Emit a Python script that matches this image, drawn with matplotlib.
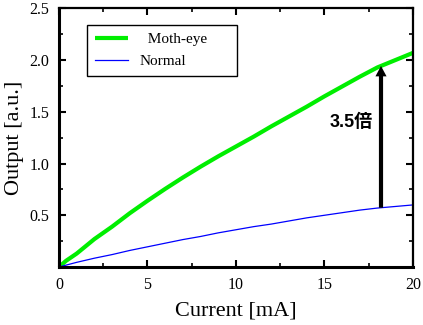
import numpy as np
import matplotlib
matplotlib.use("Agg")
import matplotlib.pyplot as plt
from matplotlib.ticker import MultipleLocator, FixedLocator

# Light output vs. drive current
current_ma = [0, 0.4, 1, 2, 3, 4, 5, 6, 7, 8, 9, 10, 11, 12, 13, 14, 15, 16, 17, 18, 19, 20]
moth_eye = [0, 0.06, 0.13, 0.27, 0.39, 0.52, 0.64, 0.755, 0.865, 0.97, 1.07, 1.165,
            1.26, 1.36, 1.455, 1.55, 1.65, 1.745, 1.84, 1.93, 2.0, 2.07]
normal = [0, 0.018, 0.045, 0.085, 0.12, 0.16, 0.195, 0.23, 0.265, 0.295, 0.33, 0.36,
          0.39, 0.415, 0.445, 0.475, 0.50, 0.525, 0.55, 0.57, 0.585, 0.60]

series_labels = ["  Moth-eye", "Normal"]
x_ticks = [0, 5, 10, 15, 20]
y_ticks = [0.5, 1.0, 1.5, 2.0, 2.5]
y_tick_labels = ["0.5", "1.0", "1.5", "2.0", "2.5"]
arrow_at_ma = 18.2
ratio_label = "3.5倍"

serif = ["Liberation Serif", "DejaVu Serif"]

fig = plt.figure(figsize=(4.23, 3.25), dpi=100)
ax = fig.add_axes([0.1395, 0.1785, 0.8365, 0.7955])

ax.plot(current_ma, moth_eye, color="#00ee00", lw=3.0, label=series_labels[0],
        solid_capstyle="butt")
ax.plot(current_ma, normal, color="#0000ff", lw=0.9, label=series_labels[1])

ax.set_xlim(0, 20)
ax.set_ylim(0, 2.5)

ax.xaxis.set_major_locator(FixedLocator(x_ticks))
ax.xaxis.set_minor_locator(MultipleLocator(2.5))
ax.yaxis.set_major_locator(FixedLocator(y_ticks))
ax.yaxis.set_minor_locator(MultipleLocator(0.25))
ax.set_yticklabels(y_tick_labels)

ax.tick_params(which="both", direction="in", top=True, right=True, color="black")
ax.tick_params(which="major", length=5, width=1.5, labelsize=11.5, pad=7)
ax.tick_params(which="minor", length=3, width=1.2)
for lbl in ax.get_xticklabels() + ax.get_yticklabels():
    lbl.set_family(serif)

for side in ("left", "bottom"):
    ax.spines[side].set_linewidth(2.2)
for side in ("top", "right"):
    ax.spines[side].set_linewidth(1.6)

ax.set_xlabel("Current [mA]", fontsize=16, family=serif, labelpad=6)
ax.set_ylabel("Output [a.u.]", fontsize=16, family=serif, labelpad=4)

# Arrow from the Normal curve up to the Moth-eye curve
y_low = float(np.interp(arrow_at_ma, current_ma, normal))
y_high = float(np.interp(arrow_at_ma, current_ma, moth_eye))
ax.annotate("", xy=(arrow_at_ma, y_high), xytext=(arrow_at_ma, y_low),
            arrowprops=dict(facecolor="black", edgecolor="none", width=3,
                            headwidth=8, headlength=7.5, shrink=0))
ax.text(17.75, 1.40, ratio_label, ha="right", va="center", fontsize=13,
        fontweight="bold", family=["Liberation Sans", "Noto Sans CJK JP"])

leg = ax.legend(loc="upper left", bbox_to_anchor=(0.079, 0.757, 0.424, 0.18),
                mode="expand", borderaxespad=0, fancybox=False, framealpha=1,
                edgecolor="black", prop={"family": serif, "size": 11},
                handlelength=2.2, handletextpad=0.75, labelspacing=0.55,
                borderpad=0.5)
leg.get_frame().set_linewidth(1.0)

fig.savefig("out.png", dpi=100)
